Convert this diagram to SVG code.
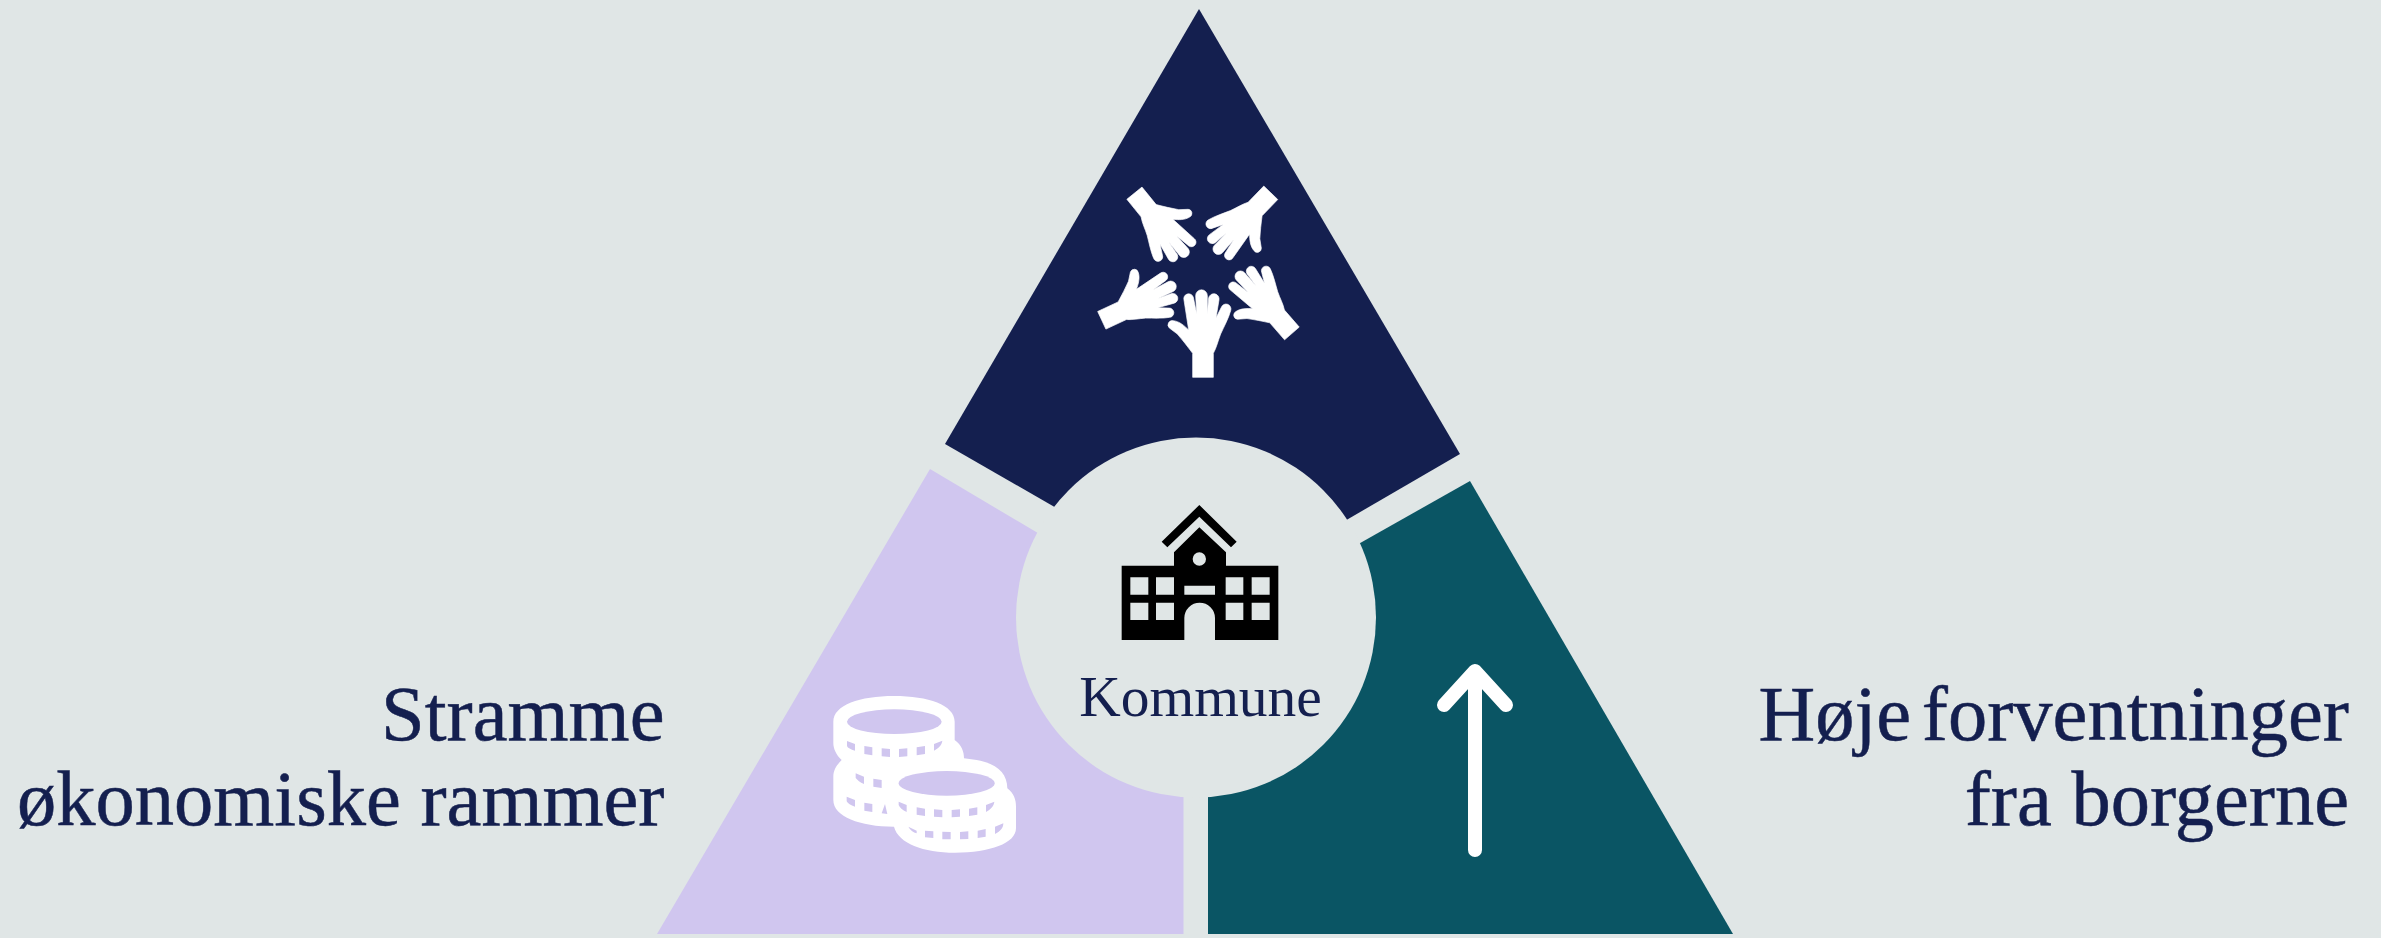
<svg xmlns="http://www.w3.org/2000/svg" width="2381" height="938" viewBox="0 0 2381 938">
<style>
.lbl{font-family:"Liberation Serif","Times New Roman",serif;fill:#141f4f;stroke:#141f4f;stroke-width:.5px;font-size:78.5px;text-anchor:end}
.w{fill:#fff}
.h{fill:#fff;stroke:#fff;stroke-width:2;stroke-linejoin:round}
.l{fill:#d0c6ef}
</style>
<defs>
<path id="hand" d="M-30 0 L-30 -72 C-45 -92 -60 -112 -76 -130 L-100 -148 A13 13 0 0 1 -88 -170 C-70 -168 -55 -155 -42 -142 L-56 -232 A14 14 0 0 1 -28 -240 L-18 -190 L-21 -245 A17 17 0 0 1 14 -245 L14 -190 L18 -238 A15 15 0 0 1 49 -232 L40 -178 L56 -210 A14 14 0 0 1 84 -200 C78 -178 64 -152 54 -130 C46 -110 42 -90 32 -72 L32 0 Z"/>
</defs>
<rect width="2381" height="938" fill="#e0e6e6"/>
<g id="top-segment">
<path fill="#141f4f" d="M1199 9 L1460 454 L1300 547 L1105 536 L945 444 Z"/>
<g class="h" transform="translate(1060 170) scale(.33333)">
<use href="#hand" transform="translate(428 622)"/>
<use href="#hand" transform="translate(125 450) rotate(65) scale(.94)"/>
<use href="#hand" transform="translate(224 69) rotate(141) scale(.94)"/>
<use href="#hand" transform="translate(633 69) rotate(224) scale(.94)"/>
<use href="#hand" transform="translate(695 491) rotate(319) scale(.94)"/>
</g>
</g>
<g id="left-segment">
<path class="l" d="M930 469 L1100 570 L1183.500 700 L1183.500 934 L657 934 Z"/>
<g transform="translate(810 680) scale(.33333)">
<path class="w" d="M70 125 C70 75 150 48 252 48 C355 48 434 75 434 125 L434 180 C455 195 462 215 462 235 L500 240 C560 250 592 280 592 325 C612 340 618 360 618 380 L618 445 C618 490 540 518 435 518 C340 518 265 490 252 440 C150 440 70 410 70 360 L70 290 C70 270 80 255 95 240 C78 225 70 205 70 190 Z"/>
<g class="l">
<ellipse cx="253" cy="125" rx="142" ry="37"/>
<ellipse cx="410" cy="310" rx="144" ry="37"/>
<path d="M111 183 L135 192 L135 212 C122 208 113 204 111 198 Z M163 198 L187 202 L187 226 L163 222 Z M215 205 L240 207 L240 231 L215 229 Z M267 207 L292 205 L292 229 L267 231 Z M320 202 L345 198 L345 222 L320 226 Z M372 192 L397 182 C396 195 385 205 372 212 Z"/>
<path d="M137 280 L162 290 L162 312 C150 307 142 300 137 294 Z M190 296 L215 300 L215 324 L190 320 Z"/>
<path d="M110 350 L135 360 L135 380 C122 376 113 370 110 364 Z M163 368 L187 372 L187 396 L163 392 Z M215 400 L225 372 L232 402 Z"/>
<path d="M266 365 L290 375 L290 396 C278 390 268 382 266 375 Z M320 382 L345 386 L345 408 L320 404 Z M372 388 L397 390 L397 412 L372 410 Z M425 390 L450 388 L450 410 L425 412 Z M477 386 L502 382 L502 404 L477 408 Z M528 375 L553 365 C552 378 542 388 528 396 Z"/>
<path d="M295 440 L320 452 L320 460 C310 458 300 450 295 440 Z M345 452 L370 454 L370 474 L345 472 Z M397 455 L422 456 L422 478 L397 478 Z M450 456 L475 454 L475 477 L450 478 Z M503 452 L527 447 L527 470 L503 474 Z M555 440 L580 430 C580 445 570 455 555 462 Z"/>
</g>
</g>
</g>
<g id="right-segment">
<path fill="#0a5564" d="M1470 481 L1733 934 L1208 934 L1208 700 L1300 577 Z"/>
<path fill="none" stroke="#fff" stroke-width="14" stroke-linecap="round" stroke-linejoin="round" d="M1475 850 L1475 672 M1444 705 L1475 671 L1506 705"/>
</g>
<g id="center-node">
<circle cx="1196" cy="617.500" r="180" fill="#e0e6e6"/>
<path fill="#000" fill-rule="evenodd" transform="translate(1080 490) scale(.33333)" d="M125 227 L282 227 L282 187 L358 112 L438 187 L438 227 L595 227 L595 450 L405 450 L405 384 A46 46 0 0 0 313 384 L313 450 L125 450 Z M151 262 L151 314 L205 314 L205 262 Z M228 262 L228 314 L282 314 L282 262 Z M437 262 L437 314 L490 314 L490 262 Z M515 262 L515 314 L569 314 L569 262 Z M151 338 L151 390 L205 390 L205 338 Z M228 338 L228 390 L282 390 L282 338 Z M437 338 L437 390 L490 390 L490 338 Z M515 338 L515 390 L569 390 L569 338 Z M313 287 L313 314 L405 314 L405 287 Z M378 207 A20 20 0 1 0 338 207 A20 20 0 1 0 378 207 Z M245 155 L358 45 L470 155 L453 172 L358 80 L262 172 Z"/>
<text x="1200.500" y="716" font-family="Liberation Serif,serif" font-size="57.500" fill="#141f4f" text-anchor="middle">Kommune</text>
</g>
<g id="label-left">
<text class="lbl" x="664.500" y="740">Stramme</text>
<text class="lbl" x="664.500" y="825">økonomiske rammer</text>
</g>
<g id="label-right">
<text class="lbl" x="2349" y="740" word-spacing="-9">Høje forventninger</text>
<text class="lbl" x="2349" y="825">fra borgerne</text>
</g>
</svg>
